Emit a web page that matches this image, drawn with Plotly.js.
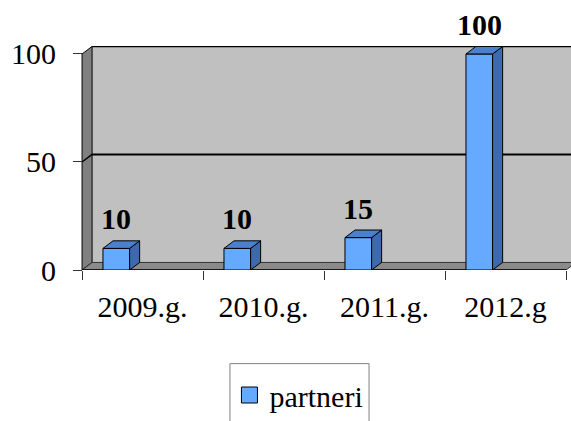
<!DOCTYPE html>
<html>
<head>
<meta charset="utf-8">
<script src="https://cdn.plot.ly/plotly-3.0.1.min.js"></script>
<style>html,body{margin:0;padding:0;background:#fff;}#chart{width:571px;height:421px;}</style>
</head>
<body>
<div id="chart"></div>
<script>
var categories = ["2009.g.", "2010.g.", "2011.g.", "2012.g"];
var partneri = [10, 10, 15, 100];
var seriesName = "partneri";
var yTicks = [0, 50, 100];

var BAR_POS = 0.283, BAR_W = 0.22;
var DX = 0.083, DY = 3.5;
var FRONT = '#66aaff', TOP = '#4a80cc', SIDE = '#3d6aaa';
var FONT = 'Liberation Serif';

var xs = categories.map(function (c, i) { return i + BAR_POS; });
var n = categories.length;

var shapes = [];
// back wall
shapes.push({type: 'rect', xref: 'x', yref: 'y', x0: DX, x1: n + DX, y0: DY, y1: 100 + DY,
  fillcolor: '#c0c0c0', line: {width: 0}, layer: 'below'});
shapes.push({type: 'line', xref: 'x', yref: 'y', x0: DX, x1: n + DX, y0: 100 + DY, y1: 100 + DY,
  line: {color: '#000', width: 1.5}, layer: 'below'});
// left wall
shapes.push({type: 'path', xref: 'x', yref: 'y',
  path: 'M 0,0 L 0,100 L ' + DX + ',' + (100 + DY) + ' L ' + DX + ',' + DY + ' Z',
  fillcolor: '#808080', line: {color: '#000', width: 1}, layer: 'below'});
// floor
shapes.push({type: 'path', xref: 'x', yref: 'y',
  path: 'M 0,0 L ' + DX + ',' + DY + ' L ' + (n + DX) + ',' + DY + ' L ' + n + ',0 Z',
  fillcolor: '#8a8a8a', line: {color: '#333', width: 1}, layer: 'below'});
shapes.push({type: 'line', xref: 'x', yref: 'y', x0: 0, x1: n, y0: 0, y1: 0,
  line: {color: '#000', width: 1.5}, layer: 'below'});
// gridline 50
shapes.push({type: 'line', xref: 'x', yref: 'y', x0: DX, x1: n + DX, y0: 50 + DY, y1: 50 + DY,
  line: {color: '#000', width: 2}, layer: 'below'});
shapes.push({type: 'line', xref: 'x', yref: 'y', x0: 0, x1: DX, y0: 50, y1: 50 + DY,
  line: {color: '#000', width: 1.5}, layer: 'below'});

// bar side & top faces
xs.forEach(function (x, i) {
  var v = partneri[i];
  var l = x - BAR_W / 2, r = x + BAR_W / 2;
  shapes.push({type: 'path', xref: 'x', yref: 'y',
    path: 'M ' + r + ',0 L ' + (r + DX) + ',' + DY + ' L ' + (r + DX) + ',' + (v + DY) + ' L ' + r + ',' + v + ' Z',
    fillcolor: SIDE, line: {color: '#000', width: 1}, layer: 'above'});
  shapes.push({type: 'path', xref: 'x', yref: 'y',
    path: 'M ' + l + ',' + v + ' L ' + (l + DX) + ',' + (v + DY) + ' L ' + (r + DX) + ',' + (v + DY) + ' L ' + r + ',' + v + ' Z',
    fillcolor: TOP, line: {color: '#000', width: 1}, layer: 'above'});
});

// legend box
shapes.push({type: 'rect', xref: 'paper', yref: 'paper', x0: 0.311, x1: 0.592, y0: -0.418, y1: -0.75,
  fillcolor: 'rgba(0,0,0,0)', line: {color: '#808080', width: 1}});

var annotations = xs.map(function (x, i) {
  return {x: x, y: partneri[i], xref: 'x', yref: 'y', text: '<b>' + partneri[i] + '</b>',
    showarrow: false, yanchor: 'bottom', yshift: 11,
    font: {family: FONT, size: 30, color: '#000'}};
});

var data = [
  {type: 'bar', x: xs, y: partneri, width: BAR_W, name: seriesName, showlegend: false,
   marker: {color: FRONT, line: {color: '#000', width: 1}}, hoverinfo: 'skip', cliponaxis: false},
  {type: 'scatter', mode: 'markers', x: [null], y: [null], name: seriesName,
   marker: {symbol: 'square', size: 18, color: FRONT, line: {color: '#000', width: 1}}}
];

var layout = {
  width: 571, height: 421,
  margin: {l: 76, r: 0, t: 46, b: 150, pad: 0},
  paper_bgcolor: '#fff', plot_bgcolor: 'rgba(0,0,0,0)',
  font: {family: FONT},
  showlegend: true,
  legend: {x: 0.31, xanchor: 'left', y: -0.555, yanchor: 'middle', orientation: 'v',
    font: {family: FONT, size: 30, color: '#000'}, borderwidth: 0, bgcolor: 'rgba(0,0,0,0)'},
  xaxis: {type: 'linear', range: [-0.05, 4.041], showgrid: false, zeroline: false, showline: false,
    tickmode: 'array', tickvals: categories.map(function (c, i) { return i + 0.5; }), ticktext: categories,
    ticks: '', ticklabelstandoff: 16,
    tickfont: {family: FONT, size: 30, color: '#000'},
    minor: {tickmode: 'array', tickvals: categories.map(function (c, i) { return i; }).concat([n]),
      ticks: 'outside', ticklen: 9, tickwidth: 1, tickcolor: '#333', showgrid: false},
    fixedrange: true},
  yaxis: {range: [0, 103.69], anchor: 'free', position: 6 / 495, showgrid: false, zeroline: false,
    showline: false, tickmode: 'array', tickvals: yTicks, ticktext: yTicks.map(String),
    ticks: 'outside', ticklen: 9, tickwidth: 1, tickcolor: '#333', ticklabelstandoff: 11,
    tickfont: {family: FONT, size: 30, color: '#000'}, fixedrange: true},
  shapes: shapes,
  annotations: annotations,
  bargap: 0
};

Plotly.newPlot('chart', data, layout, {displayModeBar: false, staticPlot: true});
</script>
</body>
</html>
